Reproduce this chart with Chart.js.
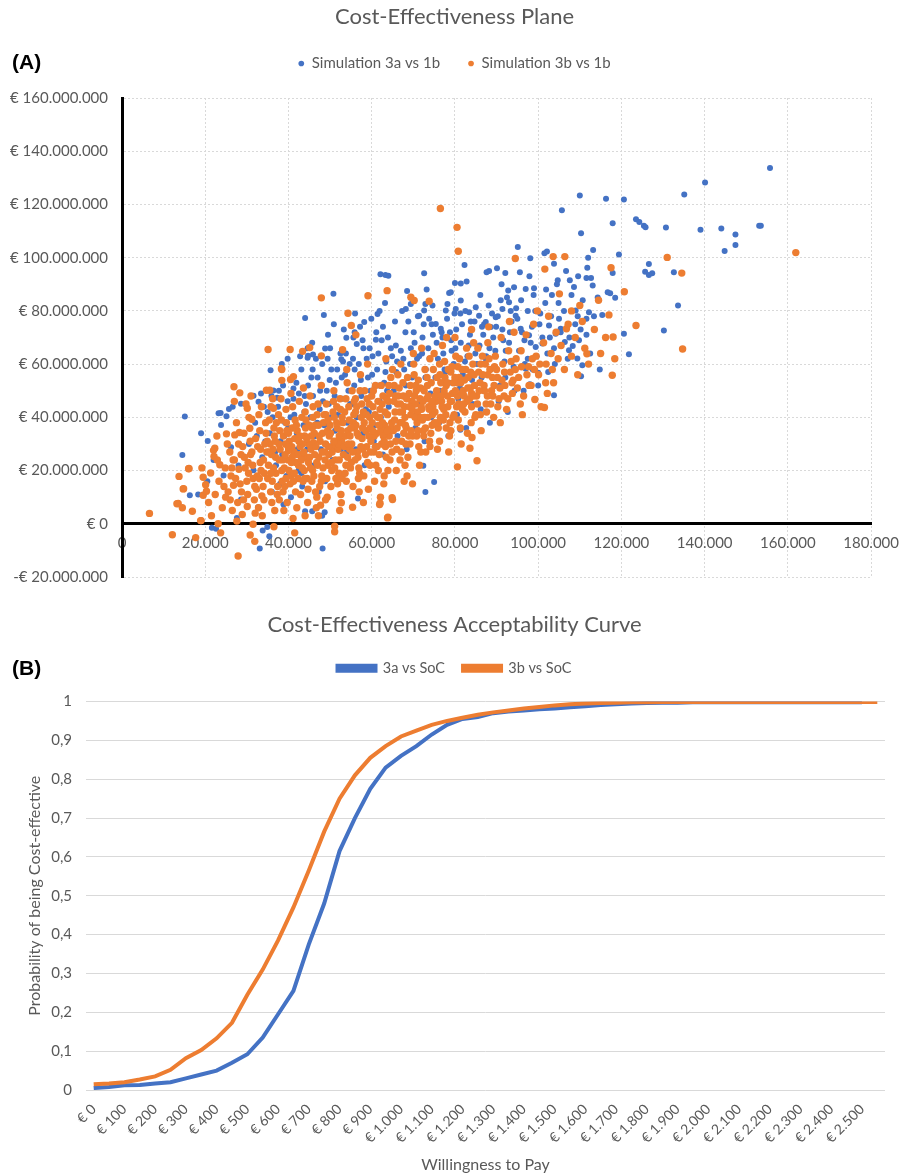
<!DOCTYPE html>
<html>
<head>
<meta charset="utf-8">
<script src="https://cdn.jsdelivr.net/npm/chart.js@4/dist/chart.umd.min.js"></script>
<style>
  body { margin: 0; background: #fff; }
  .wrap { position: relative; width: 909px; height: 1176px; }
  .tag { position: absolute; left: 12px; font: bold 21px "Liberation Sans", Arial, sans-serif; color: #000; }
  canvas { display: block; }
</style>
</head>
<body>
<div class="wrap">
  <canvas id="planeChart" width="909" height="600"></canvas>
  <canvas id="ceacChart" width="909" height="576"></canvas>
  <div class="tag" style="top:50px">(A)</div>
  <div class="tag" style="top:656px">(B)</div>
</div>
<script>
// --- Cost-effectiveness plane: [incremental effect (x 1000), incremental cost (M EUR)] ---
const sim3aPoints = [
  [155.7,133.7],[140.1,128.2],[135.1,123.7],[116.3,122.1],[120.6,121.9],[110,123.4],[105.7,117.8],
  [117.9,112.9],[123.5,114.4],[124.3,113.4],[125.4,112],[125.8,111.4],[130.7,111.3],[139,110.5],
  [144,111],[147.4,108.7],[147.4,104.8],[144.8,102.5],[153.1,112],[153.5,112],[119.4,101.2],
  [126.6,97.6],[125.7,94.7],[126.6,93.5],[127.4,94.1],[132.6,94.5],[117.9,94.2],[116.7,87],
  [117.3,86.6],[118.5,84.9],[133.6,82],[115.4,78.5],[120.6,71.4],[130.2,72.6],[121.8,63.7],
  [110.3,109.2],[113.2,102.9],[101.5,101.7],[102.1,102.3],[95.1,104],[98.1,99.8],[103.8,97.7],
  [62.1,93.8],[63.3,93.5],[64,93.2],[72.6,94.1],[82.3,97.2],[90.1,96],[88.2,95],[87.6,94.5],
  [92.1,94.2],[95.6,94.5],[80,90.5],[81.4,90.3],[82.8,91],[92.8,87.7],[94.2,88.9],[97,88.2],
  [99,88.5],[68.5,87.5],[78.6,86.7],[78.2,82.6],[110.3,55.4],[103.8,48.3],[81.3,35.3],[75,15.7],
  [72.9,11.9],[72.4,21.8],[111.8,96.2],[109.6,93],[104.7,91.5],[107.6,91.5],[111.6,92.4],
  [112.7,92.4],[113.1,89.5],[109,80.1],[109.5,78],[111.6,77],[112.2,79.5],[98,52.4],[97,58.3],
  [100,56.8],[68.2,80.7],[69.4,82.6],[72.9,82.6],[72.6,80.1],[71.4,78.2],[73.8,77],[75.4,75.1],
  [76.6,73.3],[77.8,80.1],[79,87],[80.2,80.7],[81.4,83.9],[83.4,79.5],[85,81.4],[85.8,78.2],
  [87.4,75.8],[88.6,73.9],[89.8,77.6],[91.4,80.7],[93,83.2],[94.6,78.2],[95.8,73.3],[97.8,70.8],
  [99.4,66.4],[101,67.7],[102.6,74.5],[104.2,71.4],[106.4,68.3],[108.3,66.8],[109.4,62.1],
  [110.6,59.6],[107.4,65.2],[105.4,73.3],
  [15.1,40.3],[14.5,25.8],[19,34],[20.6,31.1],[16.3,10.7],[23.2,41.5],[23.7,41.6],[23.8,37.1],
  [25.7,43.1],[26.6,44],[28.6,45.1],[25.1,40.4],[31.6,48.1],[33.4,49],[35.7,57.7],[24.4,18.1],
  [21.6,-1.5],[22.6,-1.9],[26.2,28.8],[28,21.9],[28.6,9.1],[31.6,20.1],[34.4,30.9],[32.8,45.9],
  [36.4,50.1],[37.3,47.4],[34.9,-1.2],[33.8,-2.5],[35.4,-4.7],[33.1,-9.3],[48.2,-9.3],[27.6,2.2],
  [32.7,6.2],[38.8,7.2],[44,4.7],[45.7,4.7],[48.1,3],[48.7,4.3],[56.7,9.5],[44,77.3],[50.8,86.4],
  [48.5,78.5],[58.2,75.8],[61.4,78.8],[61.9,80],[61,69.2],[20.5,16],[18.3,11],[22,24],
  [53.9,69.9],[55.9,72],[56.4,67.6],[48.8,65.9],[44.6,62.4],[45.9,63.6],[53.1,61],[52.7,61.8],
  [44.7,63.1],[41.2,50.8],
  [35.5,34],[36.2,40],[36.8,27],[37.5,44],[38.1,31],[38.7,52],[39.2,38],[39.8,46],[40.3,29],
  [40.9,55],[41.4,41],[42,34],[42.5,49],[43.1,58],[43.6,37],[44.2,45],[44.7,52],[37,22],[39.5,18],
  [41.7,23],[43.3,14],[44.5,28],[36,12],[40.6,10],[42.8,63],[38.4,60],[35.9,48],[41.2,47],
  [45.3,40],[45.9,48],[46.4,33],[47,55],[47.5,43],[48.1,60],[48.6,37],[49.2,50],[49.7,45],
  [50.3,58],[50.8,30],[51.4,53],[51.9,41],[52.5,64],[53,47],[53.6,56],[54.1,38],[54.7,60],
  [46.2,22],[48.8,16],[50.6,24],[52.2,19],[54,27],[45.7,68],[49.5,71],[53.3,73],[47.8,28],
  [51.2,35],[46.6,62],[50,66],
  [55.3,45],[55.8,52],[56.4,40],[56.9,60],[57.5,48],[58,66],[58.6,43],[59.1,55],[59.7,50],
  [60.2,63],[60.8,37],[61.3,58],[61.9,46],[62.4,69],[63,53],[63.5,61],[64.1,44],[64.6,66],
  [56.2,28],[58.3,22],[60.5,31],[62.7,26],[64.3,35],[57.2,74],[59.9,77],[63.2,83],[55.6,70],
  [61.1,72],
  [65.3,50],[65.9,57],[66.4,45],[67,65],[67.5,53],[68.1,72],[68.6,48],[69.2,60],[69.7,55],
  [70.3,68],[70.8,42],[71.4,63],[71.9,51],[72.5,75],[73,58],[73.6,66],[74.1,49],[74.7,71],
  [66.2,33],[68.4,28],[70.5,36],[72.7,31],[74.3,40],[67.3,80],[69.9,84],[73.2,88],[65.6,76],
  [71.1,78],
  [75.3,55],[75.9,62],[76.4,50],[77,70],[77.5,58],[78.1,77],[78.6,53],[79.2,65],[79.7,60],
  [80.3,73],[80.8,47],[81.4,68],[81.9,56],[82.5,80],[83,63],[83.6,71],[84.1,54],[84.7,76],
  [76.2,38],[78.4,33],[80.5,41],[82.7,36],[84.3,45],
  [85.3,60],[85.9,67],[86.4,55],[87,75],[87.5,63],[88.1,82],[88.6,58],[89.2,70],[89.7,65],
  [90.3,78],[90.8,52],[91.4,73],[91.9,61],[92.5,85],[93,68],[93.6,76],[94.1,59],[94.7,81],
  [86.2,43],[88.4,38],[90.5,46],[92.7,42],[94.3,50],
  [95.4,65],[96.1,72],[96.8,60],[97.5,80],[98.2,68],[98.9,86],[99.6,63],[100.3,75],[101,70],
  [101.7,83],[102.4,57],[103.1,78],[103.8,66],[104.5,90],[96.5,50],[100,52],[104,60],
  [105.4,72],[106.2,80],[107.1,62],[108,86],[108.9,75],[109.8,69],[110.7,84],[111.6,71],
  [112.5,64],[113.4,78],[114.3,85],[106.7,95],[112,100],[114.8,58],
  [30.5,30],[32,38],[33.7,25],[35,42],[36.6,36],[38,15],[39,33],[40.5,40],[42.2,28],[43.9,48],
  [45.5,55],[46.9,38],[48.3,46],[49.9,54],[51.1,48],[52.8,55],[54.4,50],[55.9,58],[57.4,54],
  [58.8,62],[60.1,56],[61.6,64],[63.3,57],[64.9,63],[66.1,61],[67.8,58],[69.4,66],[70.9,62],
  [72.2,70],[73.9,62],[75.6,68],[77.2,64],[78.8,72],[80.1,66],[81.7,75],[83.3,67],[84.9,64],
  [86.8,71],[88.3,66],[89.9,74],[91.6,69],[93.2,72],[95,77],[96.7,69],[98.5,74],[100.5,79],
  [102.8,70],[105,77],[107.5,70],[110.2,73],[39.8,62],[44.6,66],[50.9,75],[56,79],[62.7,74],
  [68.8,76],[74.6,82],[79.9,79],[86.1,86],[91.2,90],[97.9,93],[103.3,86],[108.6,89],[43.1,19],
  [47.3,12],[52.6,28],[57.9,34],[62.2,40],[66.7,38],[71.3,45],[76.1,46],[81.2,51],[86.8,50],
  [92.1,55],[97.5,62],[102.2,64],
  [32.4,33],[34.1,44],[37.7,50],[39.9,36],[41.9,53],[43.8,42],[45.8,58],[47.6,50],[49.4,62],
  [51.7,58],[53.8,64],[55.5,62],[57.8,69],[59.5,66],[61.8,52],[63.9,70],[65.8,67],[67.6,62],
  [70.1,72],[72.1,64],[74.4,75],[76.8,72],[79.1,69],[81.3,79],[83.8,76],[86.5,74],[88.9,79],
  [91,84],[93.4,80],[95.9,84],[99.3,80],[101.9,88],[104.9,83],[38.5,26],[42.4,20],[46.1,30],
  [50.2,40],[54.8,45],[59.3,42],[63.7,50],[68.2,52],[72.9,55],[77.7,57],[82.4,61],[87.4,62],
  [92.2,65],[98.7,58]
];

const sim3bPoints = [
  [6.6,3.9],[12.1,-4.1],[17.7,-5.2],[27.9,-12.1],[13.5,7.6],[14.5,6],[14.7,13.1],[13.7,17.8],
  [16.9,4.7],[16.1,20.8],[19.2,21],[19.5,17.5],[19.5,10.7],[19,1.2],[20.3,12.2],[20.1,14.7],
  [21.3,19.1],[22.1,25.3],[22.3,28.4],[23.5,22.2],[26.9,51.5],[28.3,49.2],[30.1,43.4],[27.1,33.4],
  [30.7,35.9],[34.7,50.2],[35.5,50.2],[38.3,58.3],[35.1,65.5],[40.4,65.5],[36.4,43.4],[27.6,1],
  [23.1,0],[31.5,-0.2],[36.5,-1.1],[30.8,-4.2],[31.9,-6.6],[23.7,-3.4],[47.9,84.9],[59.1,85.7],
  [54.3,79.1],[55.1,74.5],[56.2,71],[43.4,64.8],[45.1,66.2],[47.9,63.1],[53,65.4],[38.4,58],
  [41.2,55.3],[40.5,54.2],[38.4,53.9],[31.2,39.3],[25.1,33.8],[28.2,34.3],[22,27.6],[22.9,24],
  [16,20.7],[14.8,13.2],[13.2,7.5],[18.9,1.2],[41.5,-3.4],[51.1,-0.9],[51.1,-3],[55.4,6.2],
  [52.7,7.9],[61.9,7.2],[63.9,2.5],[62,7.7],[48.9,9],[64.9,9.8],[80.6,21.4],[85.3,23.7],
  [84.1,32.4],[83.6,28.4],[69.8,15],[63.8,2.2],[65,9.1],[76.5,118.5],[80.5,111.4],[80.8,102.4],
  [94.5,99.7],[103.6,100.4],[106.4,100.4],[101.6,95.7],[117.5,96.2],[120.7,87.2],[161.9,101.9],
  [131,100.1],[134.5,94.2],[117,78.5],[118,70.2],[134.7,65.7],[117.8,55.8],[108,80],[110.6,76],
  [106.8,73.3],[105.1,86.4],[101.5,43.7],[99.2,46.7],[63.7,87.6],[69.4,85.1],[70.2,83.9],
  [73.8,83.6],[111.7,63.9],[123.5,74.5],
  [25.5,12],[26.2,18],[27,24],[27.8,8],[28.4,15],[29,29],[29.6,21],[30.2,11],[30.9,26],[31.5,17],
  [32.1,32],[32.8,6],[33.2,23],[33.9,14],[34.5,38],[34.8,27],[26.5,5],[28.9,3.5],[30.5,40],
  [33.5,44],[29.3,34],[31.8,9],[34.2,19],[25.9,27],[27.5,38],[32.6,29],[34.9,31],[26.8,14.5],
  [28.1,20.5],[30.1,6.5],[33.7,3],
  [35.2,22],[35.6,30],[36.1,16],[36.5,36],[36.9,25],[37.3,11],[37.6,41],[38,28],[38.4,20],
  [38.8,33],[39.1,14],[39.5,38],[39.9,24],[40.2,31],[40.6,18],[41,44],[41.3,27],[41.7,12],
  [42.1,35],[42.4,22],[42.8,29],[43.2,40],[43.5,16],[43.9,33],[44.3,25],[44.6,8],[45,37],
  [35.8,44],[36.7,5],[38.2,47],[39.7,8],[40.9,36],[42.6,46],[43.8,20],[44.9,30],[37,19],
  [40,27.5],[41.8,23],[44,42],[36.3,28],[38.6,24],[39.3,30],[41.5,32],[43,26],[35.4,39],
  [37.9,35],[40.4,15],[42.9,11],[44.5,17],
  [45.4,28],[45.8,20],[46.2,34],[46.5,12],[46.9,41],[47.3,25],[47.6,31],[48,18],[48.4,38],
  [48.7,27],[49.1,45],[49.5,22],[49.8,33],[50.2,14],[50.6,29],[51,40],[51.3,24],[51.7,36],
  [52.1,19],[52.4,47],[52.8,31],[53.2,26],[53.5,42],[53.9,16],[54.3,35],[54.7,28],[45.2,48],
  [46.7,6],[47.9,52],[49.3,10],[50.9,50],[52.6,11],[54.1,53],[54.9,21],[46,30.5],[48.2,34],
  [50,37],[51.5,31],[53,38],[47,22],[49.7,26],[51.9,28],[53.7,33],[45.6,16],[50.4,20],[52.2,24],
  [54.5,44],[48.9,30],[46.4,37],[49,41],
  [55.2,30],[55.6,38],[56,24],[56.4,44],[56.8,33],[57.1,19],[57.5,40],[57.9,28],[58.3,50],
  [58.6,35],[59,23],[59.4,45],[59.8,31],[60.1,38],[60.5,27],[60.9,52],[61.2,34],[61.6,20],
  [62,43],[62.4,30],[62.7,48],[63.1,37],[63.5,25],[63.8,41],[64.2,33],[64.6,55],[55.5,14],
  [57.3,56],[59.2,13],[60.7,16],[62.9,15],[64,46],[56.1,47],[58,42],[59.6,36],[61.4,40],
  [63.3,29],[64.8,38],[55.9,36],[58.8,29],[60.3,44],[62.2,35],[57.7,32],[61.8,26],[64.4,24],
  [56.6,27],
  [65.2,35],[65.6,42],[66,28],[66.4,48],[66.8,38],[67.2,31],[67.5,53],[67.9,44],[68.3,36],
  [68.7,25],[69,49],[69.4,41],[69.8,33],[70.2,56],[70.5,45],[70.9,38],[71.3,29],[71.7,51],
  [72,43],[72.4,35],[72.8,58],[73.2,47],[73.5,40],[73.9,31],[74.3,53],[74.7,44],[65.9,20],
  [67,60],[68.5,18],[70,64],[71.5,22],[73,27],[74,62],[66.2,45],[68,40],[69.6,46],[71,42],
  [72.6,50],[74.5,37],[67.7,34],[70.7,50],[73.7,44],[65.4,52],[69.2,30],[72.2,39],
  [75.2,42],[75.6,50],[76,36],[76.4,56],[76.8,46],[77.2,39],[77.5,61],[77.9,52],[78.3,44],
  [78.7,33],[79,57],[79.4,49],[79.8,41],[80.2,63],[80.5,53],[80.9,45],[81.3,36],[81.7,58],
  [82,50],[82.4,42],[82.8,66],[83.2,55],[83.5,47],[83.9,38],[84.3,60],[84.7,52],[75.8,28],
  [77,67],[78.5,27],[80,70],[81.5,30],[83,34],[84.5,68],[76.6,53],[79.2,46],[81,55],[82.2,48],
  [84,44],[77.8,41],[80.7,59],
  [85.2,48],[85.7,57],[86.1,41],[86.6,63],[87,52],[87.5,45],[87.9,68],[88.4,58],[88.8,50],
  [89.3,40],[89.7,63],[90.2,55],[90.6,47],[91.1,70],[91.5,60],[92,52],[92.4,43],[92.9,65],
  [93.3,57],[93.8,49],[94.2,72],[94.7,62],[86.3,35],[88.1,74],[90.9,38],[93.1,76],[85.5,66],
  [87.3,60],[89,55],[91.8,48],[94,54],
  [95.3,55],[95.9,65],[96.5,48],[97.1,71],[97.7,59],[98.3,52],[98.9,75],[99.5,63],[100.1,56],
  [100.7,44],[101.3,68],[101.9,60],[102.5,78],[103.1,64],[103.7,53],[104.3,72],[96.2,41],
  [99.8,80],[102.2,49],[104.8,62],
  [105.5,67],[106.3,58],[107.2,75],[108,63],[108.9,70],[110,82],[111.2,66],[112.1,60],
  [113.5,73],[115,64],[116.2,70],[118.4,62],[114.5,84],[109.5,56],
  [30.4,19],[31.2,27],[32.3,13],[33.1,35],[34,24],[35,17],[35.9,26],[36.6,33],[37.4,14],
  [38.3,39],[39,21],[40,34],[40.7,23],[41.6,39],[42.3,17],[43.4,30],[44.1,36],[44.8,23],
  [45.5,33],[46.3,26],[47.2,37],[48.3,21],[49.4,35],[50.5,27],[51.6,44],[52.7,35],[53.8,22],
  [54.6,39],[55.7,41],[56.5,34],[57.6,45],[58.5,26],[59.5,40],[60.6,33],[61.5,46],[62.6,38],
  [63.6,47],[64.5,30],[65.5,39],[66.6,51],[67.4,42],[68.2,30],[69.3,52],[70.4,40],[71.6,47],
  [72.5,33],[73.4,52],[74.6,41],[75.5,46],[76.5,40],[77.6,55],[78.2,48],[79.6,53],[80.4,44],
  [81.6,49],[82.6,58],[83.7,51],[84.8,40],[86,53],[87.8,48],[89.5,59],[91.3,54],[93.5,61],
  [95,51],[97.3,56],[98.6,62],[37.8,9],[42,6],[46.8,10],[51.8,15],[56.8,17],[61,22],[66.8,24],
  [71.8,27],[76.3,31],[33.6,10.5],[39.4,43],[45.9,44],[50.8,46],[55.3,50],[60,48],[65,58],
  [70.1,60],[75,64],
  [20.8,8],[21.5,3],[22.4,11],[23.3,16],[24.1,6],[24.8,21],[25.3,30],[26,9],[26.7,24],[27.3,17],
  [28,30],[28.7,12],[29.4,25],[30,16],[30.8,31],[31.4,22],[32,4],[32.5,18],[33.3,28],[34.1,9],
  [34.6,34],[24.5,14],[29.8,45],[32.9,41],[22.8,33],[27,46],[31,48],
  [35.3,27],[35.7,12],[36.4,21],[37.1,38],[37.7,30],[38.5,16],[39.2,26],[39.6,35],[40.1,20],
  [40.8,29],[41.2,16],[41.9,37],[42.2,26],[42.7,33],[43.3,21],[43.7,27],[44.2,39],[44.7,13],
  [45.1,25],[45.7,36],[46.1,18],[46.6,29],[47.1,45],[47.5,14],[48.1,27],[48.6,41],[49.2,17],
  [49.6,29],[38.9,5],[41.1,2],[44,3],[47.7,7],[36.2,47],[40.6,49],[43.6,51],
  [50.1,34],[50.7,42],[51.1,21],[51.6,38],[52,30],[52.5,43],[52.9,17],[53.4,29],[53.8,47],
  [54.2,25],[54.8,33],[55.1,23],[55.8,46],[56.2,37],[56.7,25],[57.2,50],[57.8,36],[58.1,18],
  [58.7,41],[59.3,33],[59.7,27],[60.4,50],[60.8,41],[61.3,29],[61.7,37],[62.3,52],[62.8,33],
  [63.2,42],[63.9,20],[64.3,49],[64.7,36],[65.3,46],[65.8,31],[66.3,56],[66.7,42],[67.1,27],
  [67.6,48],[68.1,37],[68.6,55],[69.1,44],[69.5,35],[52.3,5],[57,12],[62.1,10],[67.8,16],
  [54,58],[59,60],[63.4,62],
  [70.3,48],[70.8,33],[71.2,54],[71.8,40],[72.3,46],[72.9,36],[73.3,55],[73.8,43],[74.2,34],
  [74.8,58],[75.3,48],[75.9,38],[76.3,60],[76.9,44],[77.4,50],[77.9,36],[78.4,58],[78.9,46],
  [79.5,40],[80,55],[80.6,48],[81.1,62],[81.8,43],[82.3,54],[82.9,46],[83.4,63],[84,49],
  [84.6,56],[85.4,45],[86.2,60],[87.1,50],[87.9,56],[88.6,45],[89.4,52],[72,66],[78,70],[84,73],
  [33.4,20],[34.3,30],[35.8,19],[36.8,31],[37.8,24],[38.7,12],[39.4,17],[39.9,29],[40.9,25],
  [41.4,19],[42.5,31],[43.1,24],[43.9,17],[44.4,32],[45.3,21],[45.9,40],[46.8,23],[47.4,33],
  [47.9,16],[48.8,24],[49.5,39],[50.3,23],[50.9,31],[51.4,17],[52.2,33],[52.9,40],[53.6,19],
  [54.4,30],[55,36],[55.4,27],[56.1,42],[56.9,21],[57.4,29],[58.2,38],[58.9,47],[59.6,22],
  [60.2,35],[60.9,29],[61.9,40],[62.5,45],[63,31],[63.7,35],[64.1,52],[64.9,27],[65.7,48],
  [66.1,36],[66.9,45],[67.3,38],[68.4,47],[68.9,33],[69.7,43],[70.6,52],[71.1,35],[71.9,44],
  [72.7,40],[73.6,48],[74.4,46],[75.1,38],[75.7,55],[76.7,48],[77.3,43],[78.1,53],[78.8,38],
  [79.3,59],[80.1,50],[80.8,39],[81.4,53],[82.1,45],[83.1,51],[83.8,57],[84.4,48],[85.8,50],
  [86.7,56],[87.6,42],[88.2,62],[89.1,48],[90,58],[90.8,51],[91.9,57],[92.7,47],[93.7,53],
  [94.5,58],[96,59],[97.8,52],[99.1,58],[100.4,60],[101.8,53],[103.4,58],[28.6,26],[30.3,23],
  [31.9,14],[33,17],[26.4,21],[24.9,10],[29.2,9],[36,8],[47.2,3],[58,8],[63,18],[68,22],[74,29],
  [79,35],[85,41],[90.3,44],[95.7,45]
];

// --- Acceptability curve ---
const wtpLabels = [0,50,100,150,200,250,300,350,400,450,500,550,600,650,700,750,800,850,900,950,
  1000,1050,1100,1150,1200,1250,1300,1350,1400,1450,1500,1550,1600,1650,1700,1750,1800,1850,1900,
  1950,2000,2050,2100,2150,2200,2250,2300,2350,2400,2450,2500,2550];

const ceac3a = [0.005,0.008,0.012,0.013,0.017,0.020,0.030,0.040,0.050,0.070,0.092,0.135,0.195,
  0.255,0.375,0.480,0.615,0.700,0.775,0.830,0.860,0.885,0.915,0.940,0.955,0.960,0.970,0.974,
  0.977,0.980,0.982,0.985,0.988,0.991,0.993,0.995,0.996,0.997,0.997,0.998,0.998,0.998,0.998,
  0.998,0.998,0.998,0.998,0.998,0.998,0.998,0.998];

const ceac3b = [0.015,0.017,0.020,0.027,0.035,0.052,0.082,0.103,0.133,0.173,0.245,0.310,0.385,
  0.470,0.565,0.665,0.750,0.810,0.855,0.885,0.910,0.925,0.940,0.950,0.958,0.966,0.972,0.977,
  0.982,0.986,0.990,0.993,0.995,0.996,0.997,0.998,0.998,0.999,0.999,0.999,0.999,0.999,0.999,
  0.999,0.999,0.999,0.999,0.999,0.999,0.999,0.999,0.999];

const BLUE = "#4472C4";
const ORANGE = "#ED7D31";
const TEXT = "#595959";
const GRID = "#d9d9d9";

Chart.defaults.font.family = "Lato, 'Open Sans', sans-serif";
Chart.defaults.color = TEXT;
Chart.defaults.animation = false;

function dots(n) {
  return String(Math.round(n)).replace(/\B(?=(\d{3})+(?!\d))/g, ".");
}

function euro(v) {
  if (v < 0) return "-€ " + dots(-v);
  return "€ " + dots(v);
}

function renderPlane() {
  const ctx = document.getElementById("planeChart").getContext("2d");
  new Chart(ctx, {
    type: "scatter",
    data: {
      datasets: [
        {
          label: "Simulation 3a vs 1b",
          data: sim3aPoints.map(([x, y]) => ({ x: x * 1000, y: y * 1e6 })),
          backgroundColor: BLUE,
          borderWidth: 0,
          pointRadius: 3,
          order: 2,
        },
        {
          label: "Simulation 3b vs 1b",
          data: sim3bPoints.map(([x, y]) => ({ x: x * 1000, y: y * 1e6 })),
          backgroundColor: ORANGE,
          borderWidth: 0,
          pointRadius: 3.7,
          order: 1,
        },
      ],
    },
    options: {
      responsive: false,
      layout: { padding: { left: 0, right: 0, bottom: 20, top: 0 } },
      plugins: {
        title: {
          display: true,
          text: "Cost-Effectiveness Plane",
          font: { size: 22, weight: "normal", lineHeight: 1 },
          color: TEXT,
          padding: { top: 6, bottom: 0 },
        },
        subtitle: {
          display: true,
          text: "",
          font: { size: 1, lineHeight: 1 },
          padding: { top: 16, bottom: 0 },
        },
        legend: {
          weight: 1800,
          labels: {
            usePointStyle: true,
            pointStyle: "circle",
            boxWidth: 6,
            boxHeight: 4,
            padding: 28,
            font: { size: 15 },
            color: TEXT,
            sort: (a, b) => a.datasetIndex - b.datasetIndex,
          },
        },
        tooltip: { enabled: false },
      },
      scales: {
        x: {
          type: "linear",
          min: 0,
          max: 180000,
          position: { y: 0 },
          ticks: {
            stepSize: 20000,
            maxRotation: 0,
            padding: 10,
            font: { size: 15 },
            color: TEXT,
            callback: (v) => dots(v),
          },
          grid: { color: GRID, drawTicks: false },
          border: { color: "#000", width: 3, dash: [2, 2] },
        },
        y: {
          min: -20000000,
          max: 160000000,
          ticks: {
            stepSize: 20000000,
            padding: 14,
            font: { size: 15 },
            color: TEXT,
            callback: (v) => euro(v),
          },
          grid: { color: GRID, drawTicks: false },
          border: { color: "#000", width: 3, dash: [2, 2] },
          afterFit: (scale) => {
            scale.width = 122;
          },
        },
        // empty right-hand spacer so the plot ends where the original does
        // while title and legend stay centred on the full width
        spacer: {
          type: "linear",
          position: "right",
          min: 0,
          max: 1,
          grid: { display: false },
          border: { display: false },
          ticks: { display: false },
          afterFit: (scale) => {
            scale.width = 36;
          },
        },
      },
    },
  });
}

function renderCeac() {
  const ctx = document.getElementById("ceacChart").getContext("2d");
  new Chart(ctx, {
    type: "line",
    data: {
      labels: wtpLabels,
      datasets: [
        {
          label: "3a vs SoC",
          data: ceac3a,
          borderColor: BLUE,
          backgroundColor: BLUE,
          borderWidth: 4,
          pointRadius: 0,
          tension: 0,
          order: 2,
        },
        {
          label: "3b vs SoC",
          data: ceac3b,
          borderColor: ORANGE,
          backgroundColor: ORANGE,
          borderWidth: 4,
          pointRadius: 0,
          tension: 0,
          order: 1,
        },
      ],
    },
    options: {
      responsive: false,
      layout: { padding: { left: 24, right: 24, bottom: 0, top: 0 } },
      plugins: {
        title: {
          display: true,
          text: "Cost-Effectiveness Acceptability Curve",
          font: { size: 22, weight: "normal", lineHeight: 1 },
          color: TEXT,
          padding: { top: 14, bottom: 7 },
        },
        subtitle: {
          display: true,
          text: "",
          font: { size: 1, lineHeight: 1 },
          padding: { top: 15, bottom: 0 },
        },
        legend: {
          weight: 1800,
          labels: {
            boxWidth: 38,
            boxHeight: 5,
            padding: 18,
            font: { size: 14.5 },
            color: TEXT,
            sort: (a, b) => a.datasetIndex - b.datasetIndex,
          },
        },
        tooltip: { enabled: false },
      },
      scales: {
        x: {
          offset: true,
          grid: { display: false },
          border: { display: false },
          ticks: {
            autoSkip: false,
            minRotation: 45,
            maxRotation: 45,
            font: { size: 14 },
            color: TEXT,
            callback: function (v, i) {
              return i % 2 === 0 ? "€ " + dots(this.getLabelForValue(v)) : "";
            },
          },
          title: {
            display: true,
            text: "Willingness to Pay",
            font: { size: 16 },
            color: TEXT,
            padding: { top: 4, bottom: 2 },
          },
          afterFit: (scale) => {
            scale.height = 86;
          },
        },
        y: {
          min: 0,
          max: 1,
          ticks: {
            stepSize: 0.1,
            padding: 14,
            font: { size: 15 },
            color: TEXT,
            callback: (v) =>
              v === 0 || v === 1 ? String(v) : v.toFixed(1).replace(".", ","),
          },
          grid: { color: GRID, drawTicks: false },
          border: { display: false },
          title: {
            display: true,
            text: "Probability of being Cost-effective",
            font: { size: 16 },
            color: TEXT,
            padding: { top: 1, bottom: 0 },
          },
          afterFit: (scale) => {
            scale.width = 62;
          },
        },
      },
    },
  });
}

window.addEventListener("DOMContentLoaded", () => {
  renderPlane();
  renderCeac();
});
</script>
</body>
</html>
